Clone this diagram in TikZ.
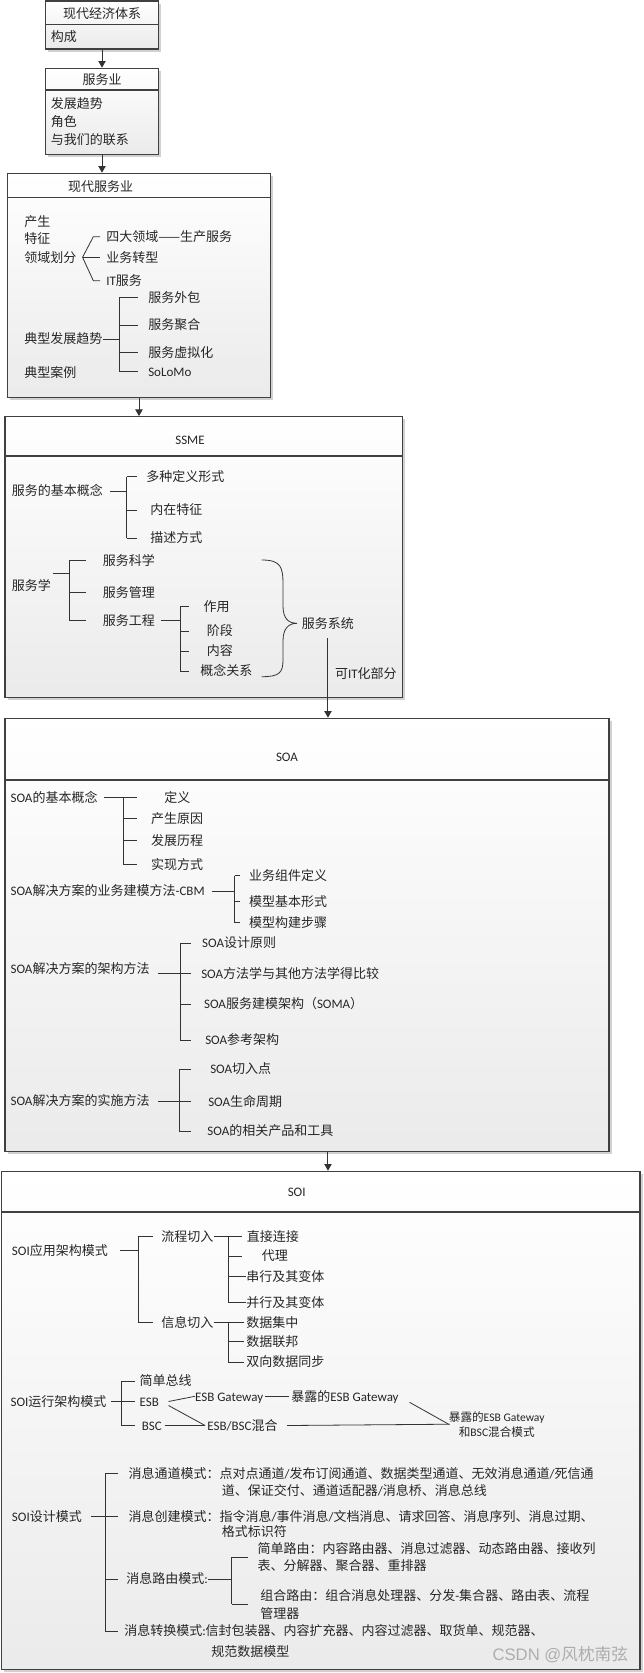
\documentclass[tikz,border=0pt]{standalone}
\usepackage{fontspec}
\setmainfont{Carlito}
\newfontfamily\cjkfont{Noto Sans CJK SC}
\newfontfamily\wmfont{Liberation Sans}
\usetikzlibrary{arrows.meta, fit, shadows}

% 汉字自动换用 Noto Sans CJK SC
\XeTeXinterchartokenstate=1
\chardef\cjkclass=10
\newcount\cjkcnt
\newcommand\cjkrange[2]{%
  \cjkcnt=#1\relax
  \loop
    \XeTeXcharclass\cjkcnt=\cjkclass
    \ifnum\cjkcnt<#2\relax
    \advance\cjkcnt by 1
  \repeat}
\cjkrange{"4E00}{"9FFF}
\cjkrange{"3000}{"303F}
\cjkrange{"FF00}{"FFEF}
\XeTeXcharclass"2014=\cjkclass
\XeTeXinterchartoks 0 \cjkclass = {\begingroup\cjkfont}
\XeTeXinterchartoks 4095 \cjkclass = {\begingroup\cjkfont}
\XeTeXinterchartoks \cjkclass 0 = {\endgroup}
\XeTeXinterchartoks \cjkclass 4095 = {\endgroup}

\begin{document}
\begin{tikzpicture}[x=0.75pt, y=-0.75pt,
    font=\fontsize{9.75}{13.2}\selectfont,
    box/.style={draw=black!75, line width=0.9pt, inner sep=0pt, top color=white, bottom color=black!8,
      drop shadow={shadow xshift=2pt, shadow yshift=-2pt, fill=black!18, opacity=1}},
    hline/.style={draw=black!75, line width=0.9pt},
    txt/.style={anchor=west, inner sep=0pt, text height=8.6pt, text depth=1.2pt, text=black!85},
    ttl/.style={txt, anchor=center},
    multi/.style={anchor=west, inner sep=0pt, align=left, text=black!85},
    line/.style={draw=black!80, line width=0.6pt},
    arr/.style={draw=black!80, line width=0.75pt, -{Triangle[length=5pt, width=5.5pt]}}
  ]
  \useasboundingbox (0,0) rectangle (643,1673);

  % Boxes
  \node[box, fit={(45.7,1) (158.3,49)}] (jjtx) {};
  \node[box, fit={(45.7,68.3) (158.3,154.3)}] (fwy) {};
  \node[box, fit={(7.3,173.3) (270.7,397.3)}] (xdfwy) {};
  \node[box, fit={(5,416.7) (402.3,697.3)}] (ssme) {};
  \node[box, fit={(4.9,718.3) (609,1151.7)}] (soa) {};
  \node[box, fit={(1.5,1171.3) (640,1669.5)}] (soi) {};
  \foreach \bx/\hy in {jjtx/24.3, fwy/90, xdfwy/197.3, ssme/456, soa/780, soi/1212}
    \draw[hline] (\bx.west |- 0,\hy) -- (\bx.east |- 0,\hy);

  % Titles
  \node[ttl] (jjtxt) at (102,13.5) {现代经济体系};
  \node[ttl] (fwyt) at (102,79.5) {服务业};
  \node[ttl] (xdfwyt) at (100.5,186.5) {现代服务业};
  \node[ttl] (ssmet) at (190,440) {SSME};
  \node[ttl] (soat) at (287,757) {SOA};
  \node[ttl] (soit) at (296.7,1191.5) {SOI};

  % Arrows between boxes
  \draw[arr] (jjtx) -- (fwy);
  \draw[arr] (fwy.south) -- (fwy.south |- xdfwy.north);
  \draw[arr] (xdfwy.south) -- (xdfwy.south |- ssme.north);

  % 现代经济体系 / 服务业
  \node[txt] (gc) at (50.7,37) {构成};
  \node[multi] (fwyb) at (50.7,121.5) {发展趋势\\角色\\与我们的联系};

  % 现代服务业
  \node[txt] (cs) at (24,221.7) {产生};
  \node[txt] (tz) at (24,239) {特征};
  \node[txt] (lyhf) at (24,257.3) {领域划分};
  \node[txt] (sdly) at (106,236.7) {四大领域——生产服务};
  \node[txt] (ywzx) at (106,257.3) {业务转型};
  \node[txt] (itfw) at (106,280.7) {IT服务};
  \coordinate (lyo) at ([xshift=4.5pt]lyhf.east);
  \draw[line] (lyo) -- ([xshift=-4.5pt]ywzx.west);
  \foreach \n in {sdly,itfw}
    \draw[line] (lyo) -- ([xshift=-9.5pt]\n.west) -- ([xshift=-4.5pt]\n.west);

  \node[txt] (dxfz) at (24,339) {典型发展趋势};
  \node[txt] (dxal) at (24,372.3) {典型案例};
  \node[txt] (fwwb) at (148,297.3) {服务外包};
  \node[txt] (fwjh) at (148,325) {服务聚合};
  \node[txt] (fwxn) at (148,352.3) {服务虚拟化};
  \node[txt] (solomo) at (148,371.5) {SoLoMo};
  \coordinate (b2) at (119.3,0);
  \draw[line] (dxfz.east) -- (dxfz -| b2);
  \draw[line] (fwwb -| b2) -- (solomo -| b2);
  \foreach \n in {fwwb,fwjh,fwxn,solomo}
    \draw[line] (\n -| b2) -- ++(14pt,0);

  % SSME
  \node[txt] (jbgn) at (11.7,491) {服务的基本概念};
  \node[txt] (dyxs) at (146,476.7) {多种定义形式};
  \node[txt] (nztz) at (150,510) {内在特征};
  \node[txt] (msfs) at (150,538) {描述方式};
  \coordinate (b3) at (126.7,0);
  \draw[line] ([xshift=5pt]jbgn.east) -- (jbgn -| b3);
  \draw[line] (dyxs -| b3) -- (msfs -| b3);
  \foreach \n in {dyxs,nztz,msfs}
    \draw[line] (\n -| b3) -- ++(8pt,0);

  \node[txt] (fwx) at (11.7,585.7) {服务学};
  \node[txt] (fwkx) at (102.7,560.7) {服务科学};
  \node[txt] (fwgl) at (102.7,592.7) {服务管理};
  \node[txt] (fwgc) at (102.7,620.5) {服务工程};
  \coordinate (b4) at (69.3,0);
  \draw[line] ([xshift=1pt]fwx.east |- 0,573.3) -- (b4 |- 0,573.3);
  \draw[line] (fwkx -| b4) -- (fwgc -| b4);
  \foreach \n in {fwkx,fwgl,fwgc}
    \draw[line] (\n -| b4) -- ++(12.5pt,0);

  \node[txt] (zy) at (203.3,606.7) {作用};
  \node[txt] (jd) at (206.7,631) {阶段};
  \node[txt] (nr) at (206.7,651) {内容};
  \node[txt] (gngx) at (200,671) {概念关系};
  \coordinate (b5) at (180,0);
  \draw[line] ([xshift=4.5pt]fwgc.east) -- (fwgc -| b5);
  \draw[line] (zy -| b5) -- (gngx -| b5);
  \foreach \n in {zy,jd,nr,gngx}
    \draw[line] (\n -| b5) -- ++(7pt,0);

  % brace to 服务系统
  \node[txt] (fwxt) at (301.7,623.3) {服务系统};
  \draw[line] (261.7,560) .. controls (281,560) and (283,567) .. (283,585) -- (283,606)
    .. controls (283,618) and (288,623.3) .. ([xshift=-3.5pt]fwxt.west)
    .. controls (288,623.3) and (283,629) .. (283,641) -- (283,660)
    .. controls (283,673) and (279,676.7) .. (261.7,676.7);
  \draw[arr] ([yshift=-6pt]fwxt.south) -- (fwxt.south |- soa.north)
    node[txt, pos=0.44, xshift=5pt] (kit) {可IT化部分};

  % SOA
  \node[txt] (soajb) at (10.3,797.3) {SOA的基本概念};
  \node[txt] (dy) at (164,797.3) {定义};
  \node[txt] (csyy) at (150.9,818.3) {产生原因};
  \node[txt] (fzlc) at (150.9,840.7) {发展历程};
  \node[txt] (sxfs) at (150.9,864.3) {实现方式};
  \coordinate (b6) at (123,0);
  \draw[line] ([xshift=5pt]soajb.east) -- (soajb -| b6);
  \draw[line] (soajb -| b6) -- (sxfs -| b6);
  \foreach \n in {dy,csyy,fzlc,sxfs}
    \draw[line] (\n -| b6) -- ++(10.8pt,0);

  \node[txt] (cbm) at (10.3,891) {SOA解决方案的业务建模方法-CBM};
  \node[txt] (ywzj) at (248.9,875.7) {业务组件定义};
  \node[txt] (mxjb) at (248.9,901.7) {模型基本形式};
  \node[txt] (mxgj) at (248.9,922.5) {模型构建步骤};
  \coordinate (b7) at (234.6,0);
  \draw[line] ([xshift=5pt]cbm.east) -- (cbm -| b7);
  \draw[line] (ywzj -| b7) -- (mxgj -| b7);
  \foreach \n in {ywzj,mxjb,mxgj}
    \draw[line] (\n -| b7) -- ++(4pt,0);

  \node[txt] (jgff) at (10.3,969) {SOA解决方案的架构方法};
  \node[txt] (sjyz) at (201.8,943) {SOA设计原则};
  \node[txt] (ffxbj) at (201,973.5) {SOA方法学与其他方法学得比较};
  \node[txt] (soma) at (203.8,1004) {SOA服务建模架构（SOMA）};
  \node[txt] (ckjg) at (205,1040) {SOA参考架构};
  \coordinate (b8) at (180.4,0);
  \draw[line] ([xshift=6pt]jgff.east |- ffxbj) -- (ffxbj -| b8);
  \draw[line] (sjyz -| b8) -- (ckjg -| b8);
  \foreach \n in {sjyz,ffxbj,soma,ckjg}
    \draw[line] (\n -| b8) -- ++(7.7pt,0);

  \node[txt] (ssff) at (10.3,1100.5) {SOA解决方案的实施方法};
  \node[txt] (qrd) at (210,1069) {SOA切入点};
  \node[txt] (smzq) at (208,1101.7) {SOA生命周期};
  \node[txt] (xgcp) at (207.1,1131) {SOA的相关产品和工具};
  \coordinate (b9) at (179.2,0);
  \draw[line] ([xshift=6pt]ssff.east |- smzq) -- (smzq -| b9);
  \draw[line] (qrd -| b9) -- (xgcp -| b9);
  \foreach \n in {qrd,smzq,xgcp}
    \draw[line] (\n -| b9) -- ++(9pt,0);

  \draw[arr] (soa.south -| fwxt.south) -- (soi.north -| fwxt.south);

  % SOI
  \node[txt] (yyjg) at (11.7,1250.5) {SOI应用架构模式};
  \node[txt] (lcqr) at (161,1236.5) {流程切入};
  \node[txt] (xxqr) at (161,1322.5) {信息切入};
  \coordinate (b10) at (138.3,0);
  \draw[line] ([xshift=9pt]yyjg.east) -- (yyjg -| b10);
  \draw[line] (lcqr -| b10) -- (xxqr -| b10);
  \foreach \n in {lcqr,xxqr}
    \draw[line] (\n -| b10) -- ++(10.8pt,0);

  \node[txt] (zjlj) at (246.7,1236.5) {直接连接};
  \node[txt] (dl) at (261.7,1256) {代理};
  \node[txt] (cx) at (246,1276.5) {串行及其变体};
  \node[txt] (bx) at (246,1302.5) {并行及其变体};
  \coordinate (b11) at (228.3,0);
  \draw[line] (lcqr.east) -- (lcqr -| b11);
  \draw[line] (zjlj -| b11) -- (bx -| b11);
  \foreach \n in {zjlj,dl}
    \draw[line] (\n -| b11) -- ++(10pt,0);
  \foreach \n in {cx,bx}
    \draw[line] (\n -| b11) -- (\n.west);

  \node[txt] (sjjz) at (246,1322.5) {数据集中};
  \node[txt] (sjlb) at (246,1341.7) {数据联邦};
  \node[txt] (sxtb) at (246,1362) {双向数据同步};
  \draw[line] (xxqr.east) -- (xxqr -| b11);
  \draw[line] (xxqr -| b11) -- (sxtb -| b11);
  \foreach \n in {sjjz,sjlb,sxtb}
    \draw[line] (\n -| b11) -- ([xshift=-1.5pt]\n.west);

  \node[txt] (yxjg) at (10.3,1401.5) {SOI运行架构模式};
  \node[txt] (jdzx) at (139.4,1381) {简单总线};
  \node[txt] (esb) at (139.4,1401.5) {ESB};
  \node[txt] (bsc) at (141.5,1425.5) {BSC};
  \coordinate (b12) at (121,0);
  \draw[line] ([xshift=3pt]yxjg.east) -- (yxjg -| b12);
  \draw[line] (jdzx -| b12) -- (bsc -| b12);
  \foreach \n in {jdzx,esb,bsc}
    \draw[line] (\n -| b12) -- ++(10.8pt,0);

  \node[txt] (esbgw) at (194.8,1396.3) {ESB Gateway};
  \node[txt] (hh) at (207.1,1425.5) {ESB/BSC混合};
  \node[txt] (bl) at (291.2,1396.3) {暴露的ESB Gateway};
  \node[align=center, inner sep=0pt, text=black!85, font=\fontsize{8.7}{11.3}\selectfont] (blhh)
    at (496.7,1424.2) {暴露的ESB Gateway\\和BSC混合模式};
  \draw[line] ([xshift=7pt]esb.east) -- (esbgw.west);
  \draw[line] ([xshift=7pt, yshift=-3pt]esb.east) -- ([xshift=-1.5pt]hh.west);
  \draw[line] ([xshift=2pt]bsc.east) -- ([xshift=-1.5pt]hh.west);
  \draw[line] ([xshift=1.5pt]esbgw.east) -- ([xshift=-1.5pt]bl.west);
  \draw[line] ([xshift=7pt]hh.east) -- ([xshift=1pt]blhh.west);
  \draw[line] ([xshift=8pt, yshift=-4.5pt]bl.east) -- (blhh.west);

  \node[txt] (sjms) at (11.7,1516.5) {SOI设计模式};
  \node[txt] (tdms) at (128.3,1473.3) {消息通道模式：点对点通道/发布订阅通道、数据类型通道、无效消息通道/死信通};
  \node[txt] (tdms2) at (221.7,1491) {道、保证交付、通道适配器/消息桥、消息总线};
  \node[txt] (cjms) at (128.3,1516.5) {消息创建模式：指令消息/事件消息/文档消息、请求回答、消息序列、消息过期、};
  \node[txt] (cjms2) at (221.7,1531.7) {格式标识符};
  \node[txt] (lyms) at (126,1579) {消息路由模式:};
  \node[multi] (jdly) at (257.3,1557.2) {简单路由：内容路由器、消息过滤器、动态路由器、接收列\\表、分解器、聚合器、重排器};
  \node[multi] (zhly) at (260,1604.2) {组合路由：组合消息处理器、分发-集合器、路由表、流程\\管理器};
  \node[txt] (zhms) at (124,1631) {消息转换模式:信封包装器、内容扩充器、内容过滤器、取货单、规范器、};
  \node[txt] (zhms2) at (211,1651.7) {规范数据模型};
  \coordinate (b13) at (105,0);
  \draw[line] ([xshift=7pt]sjms.east) -- (sjms -| b13);
  \draw[line] (tdms -| b13) -- (zhms -| b13);
  \foreach \n in {tdms,cjms,lyms,zhms}
    \draw[line] (\n -| b13) -- ++(10pt,0);
  \coordinate (b14) at (231.7,0);
  \draw[line] (lyms.east) -- (lyms -| b14);
  \draw[line] (jdly -| b14) -- (zhly -| b14);
  \foreach \n in {jdly,zhly}
    \draw[line] (\n -| b14) -- ++(12.5pt,0);

  \node[anchor=east, inner sep=0pt, text=black!32, font=\wmfont\fontsize{12.5}{14}\selectfont] (csdn)
    at (628.3,1655) {CSDN @风枕南弦};
\end{tikzpicture}
\end{document}
